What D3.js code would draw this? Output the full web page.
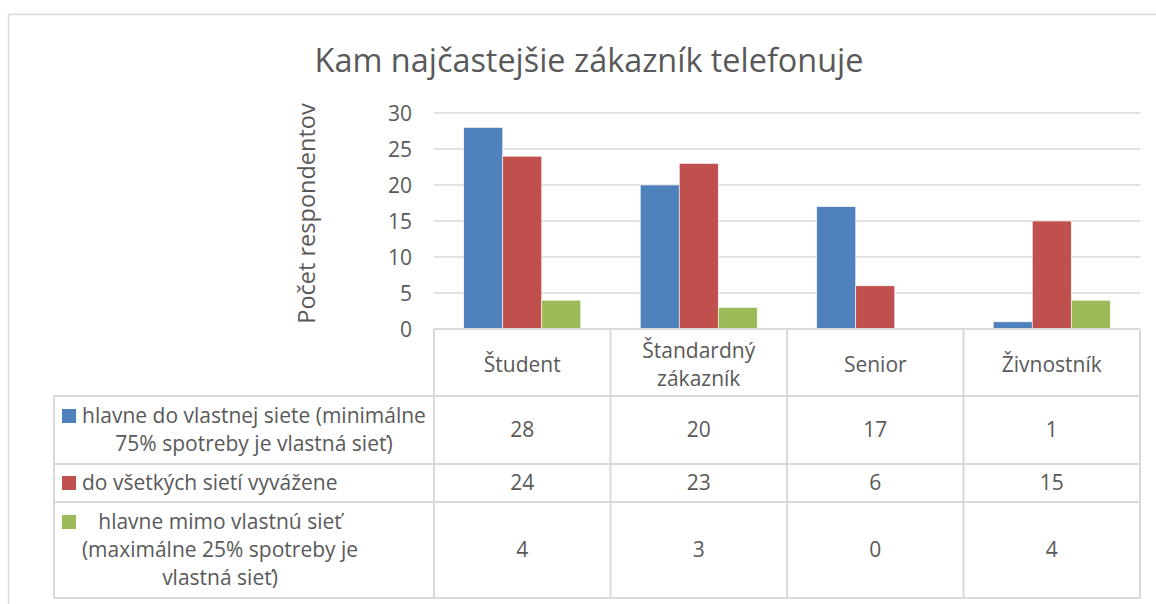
<!DOCTYPE html>
<html><head><meta charset="utf-8">
<script src="https://cdn.jsdelivr.net/npm/d3@7"></script>
<style>body{margin:0;background:#fff}svg{display:block}text{font-family:"Open Sans",sans-serif;fill:#595959}</style>
</head><body><svg id="c" width="1156" height="604"></svg>
<script>
const categories = ["Študent", "Štandardný zákazník", "Senior", "Živnostník"];
const categoryLines = [["Študent"], ["Štandardný", "zákazník"], ["Senior"], ["Živnostník"]];
const seriesNames = ["hlavne do vlastnej siete (minimálne 75% spotreby je vlastná sieť)", "do všetkých sietí vyvážene", "hlavne mimo vlastnú sieť (maximálne 25% spotreby je vlastná sieť)"];
const seriesLines = [["hlavne do vlastnej siete (minimálne", "75% spotreby je vlastná sieť)"], ["do všetkých sietí vyvážene"], ["hlavne mimo vlastnú sieť", "(maximálne 25% spotreby je", "vlastná sieť)"]];
const seriesA = [28, 20, 17, 1];
const seriesB = [24, 23, 6, 15];
const seriesC = [4, 3, 0, 4];
const yTicks = [0, 5, 10, 15, 20, 25, 30];
const colors = ["#4f81bd", "#c0504d", "#9bbb59"];
const title = "Kam najčastejšie zákazník telefonuje";
const yTitle = "Počet respondentov";

const values = [seriesA, seriesB, seriesC];
const svg = d3.select("#c");
const grid = "#d9d9d9";
svg.append("rect").attr("x", 8.5).attr("y", 14.5).attr("width", 1170).attr("height", 620).attr("fill", "none").attr("stroke", grid).attr("stroke-width", 1.5);

const L = 434, R = 1140, T = 113, B = 329;
const x = d3.scaleBand().domain(categories).range([L, R]).paddingInner(0.337).paddingOuter(0.337 / 2);
const xs = d3.scaleBand().domain([0, 1, 2]).range([0, x.bandwidth()]);
const y = d3.scaleLinear().domain([0, 30]).range([B, T]);

svg.append("text").attr("x", 589).attr("y", 72).attr("text-anchor", "middle").attr("font-size", 32.4).text(title);

svg.append("g").selectAll("line").data(yTicks.filter(d => d > 0)).join("line")
  .attr("x1", L).attr("x2", R).attr("y1", d => y(d)).attr("y2", d => y(d)).attr("stroke", grid).attr("stroke-width", 1.5);

const ax = svg.append("g").attr("transform", `translate(${L - 22},0)`).call(d3.axisLeft(y).tickValues(yTicks).tickSize(0).tickPadding(0));
ax.select(".domain").remove();
ax.selectAll("text").attr("font-size", 21).attr("fill", "#595959").style("font-family", "Open Sans").attr("dy", "0.36em");

svg.append("text").attr("transform", `translate(315,213.5) rotate(-90)`).attr("text-anchor", "middle").attr("font-size", 23.5).text(yTitle);

values.forEach((vals, si) => {
  svg.append("g").selectAll("rect").data(vals).join("rect")
    .attr("x", (d, i) => x(categories[i]) + xs(si)).attr("width", xs.bandwidth())
    .attr("y", d => y(d)).attr("height", d => B - y(d)).attr("fill", colors[si])
    .attr("stroke", "#fff").attr("stroke-width", 0.6);
});

const rowsY = [B, 396, 464, 502, 598];
const step = x.step();
const colEdges = categories.map((c, i) => L + i * step).concat([R]);
const tl = svg.append("g").attr("stroke", grid).attr("stroke-width", 2).attr("fill", "none");
tl.append("line").attr("x1", L).attr("x2", R).attr("y1", B).attr("y2", B);
colEdges.forEach(cx => tl.append("line").attr("x1", cx).attr("x2", cx).attr("y1", B).attr("y2", rowsY[4]));
rowsY.slice(1).forEach(ry => tl.append("line").attr("x1", 54).attr("x2", R).attr("y1", ry).attr("y2", ry));
tl.append("line").attr("x1", 54).attr("x2", 54).attr("y1", rowsY[1]).attr("y2", rowsY[4]);

const fs = 21, lh = 28;
function lines(g, arr, cx, cy, anchor) {
  const n = arr.length;
  arr.forEach((t, k) => g.append("text").attr("x", cx).attr("y", cy + (k - (n - 1) / 2) * lh).attr("dy", "0.35em")
    .attr("text-anchor", anchor || "middle").attr("font-size", fs).text(t));
}
const tg = svg.append("g");
categories.forEach((c, i) => {
  const cx = x(c) + x.bandwidth() / 2;
  lines(tg, categoryLines[i], cx, (rowsY[0] + rowsY[1]) / 2 + 2);
  values.forEach((vals, si) => lines(tg, [String(vals[i])], cx, (rowsY[si + 1] + rowsY[si + 2]) / 2));
});
const legendCx = [254, null, 220];
seriesNames.forEach((s, si) => {
  const cy = (rowsY[si + 1] + rowsY[si + 2]) / 2;
  const firstY = cy - (seriesLines[si].length - 1) / 2 * lh;
  tg.append("rect").attr("x", 62).attr("y", firstY - 7).attr("width", 14).attr("height", 14).attr("fill", colors[si]);
  if (legendCx[si] === null) lines(tg, seriesLines[si], 82, cy, "start");
  else lines(tg, seriesLines[si], legendCx[si], cy);
});
</script></body></html>
